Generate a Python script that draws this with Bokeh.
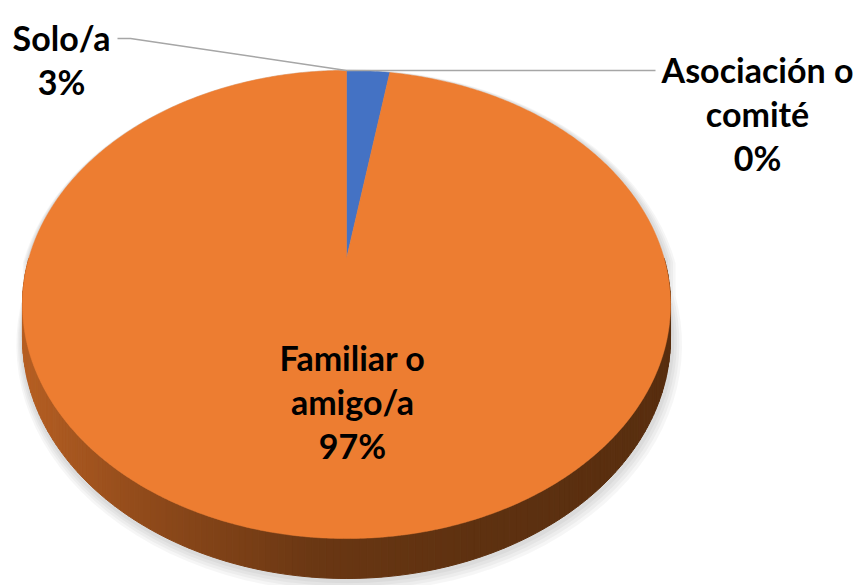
import math
from bokeh.plotting import figure
from bokeh.models import Range1d
from bokeh.core.properties import value
from bokeh.embed import file_html
from bokeh.resources import INLINE

# ---- data ----
categories = ["Solo/a", "Familiar o amigo/a", "Asociación o comité"]
label_lines = [["Solo/a"], ["Familiar o", "amigo/a"], ["Asociación o", "comité"]]
values = [2.6, 97.4, 0.0]
colors = ["#4472C4", "#ED7D31", "#A5A5A5"]

# ---- layout (pixel space of the picture) ----
W, H = 857, 585
CX, Y0 = 346.0, 258.0          # apex of the pie
A, B, K, HS = 317.7, 225.0, 0.1966, 32.1
FONT = "Lato"
FS = "34px"
LINE_GAP = 44
label_pos = [(61, 37), (352, 357), (757, 69)]
leader = {0: [(117, 38), (130, 38)], 2: [(655, 70)]}

p = figure(width=W, height=H, output_backend="svg", toolbar_location=None,
           x_range=Range1d(0, W), y_range=Range1d(H, 0),
           x_axis_location=None, y_axis_location=None, min_border=0)
p.grid.visible = False
p.outline_line_color = None
p.background_fill_color = "white"
p.border_fill_color = "white"


def project(theta, h=0.0):
    X, Z = math.sin(theta), math.cos(theta)
    w = 1 + K * Z
    return CX + A * X / w, Y0 - B * Z / w + HS * h / w


def lerp_col(t):
    stops = [(0.0, (182, 95, 35)), (0.2, (142, 73, 26)), (0.45, (106, 55, 19)),
             (0.7, (94, 49, 16)), (1.0, (88, 46, 15))]
    for (t0, c0), (t1, c1) in zip(stops, stops[1:]):
        if t <= t1:
            f = (t - t0) / (t1 - t0)
            c = [round(a + (b - a) * f) for a, b in zip(c0, c1)]
            return "#%02x%02x%02x" % tuple(c)
    return "#%02x%02x%02x" % stops[-1][1]


total = sum(values)
angles = []
acc = 0.0
for v in values:
    a0 = acc / total * 2 * math.pi
    acc += v
    a1 = acc / total * 2 * math.pi
    angles.append((a0, a1))

# ---- soft shadow ----
sil = [project(math.radians(d), 1.0) for d in range(90, 271, 3)] + \
      [project(math.radians(d)) for d in list(range(270, 361, 3)) + list(range(0, 91, 3))]
for e in [9, 7, 5, 3]:
    xs = [CX + (x - CX) * (1 + e / 330) + e * 0.3 for x, y in sil]
    ys = [Y0 + (y - Y0) * (1 + e / 300) + e * 0.5 for x, y in sil]
    p.patch(xs, ys, fill_color="black", fill_alpha=0.035, line_color=None)

# ---- side (extrusion) of the visible slices ----
side_xs, side_ys, side_cols = [], [], []
for i, (a0, a1) in enumerate(angles):
    lo = max(a0, math.pi / 2)
    hi = min(a1, 3 * math.pi / 2)
    if hi <= lo:
        continue
    n = max(2, int((hi - lo) / math.radians(1.0)))
    for j in range(n):
        t0 = lo + (hi - lo) * j / n
        t1 = lo + (hi - lo) * (j + 1) / n
        p0, p1 = project(t0), project(t1)
        q1, q0 = project(t1, 1.0), project(t0, 1.0)
        side_xs.append([p0[0], p1[0], q1[0], q0[0]])
        side_ys.append([p0[1], p1[1], q1[1], q0[1]])
        xm = (p0[0] + p1[0]) / 2
        side_cols.append(lerp_col((xm - 22) / (670 - 22)))
p.patches(side_xs, side_ys, fill_color=side_cols, line_color=side_cols, line_width=1)

# ---- top face ----
for i, (a0, a1) in enumerate(angles):
    if a1 - a0 <= 0:
        continue
    n = max(2, int((a1 - a0) / math.radians(0.5)))
    pts = [project(a0 + (a1 - a0) * j / n) for j in range(n + 1)]
    xs = [CX] + [q[0] for q in pts]
    ys = [Y0] + [q[1] for q in pts]
    p.patch(xs, ys, fill_color=colors[i], line_color=colors[i], line_width=0.5)

# ---- leader lines ----
for i, pts in leader.items():
    a0, a1 = angles[i]
    end = project(a0)
    xs = [q[0] for q in pts] + [end[0]]
    ys = [q[1] for q in pts] + [end[1]]
    p.line(xs, ys, line_color="#A6A6A6", line_width=1.5)

# ---- labels ----
for i, cat in enumerate(categories):
    pct = f"{round(values[i] / total * 100)}%"
    lines = label_lines[i] + [pct]
    x0, y0 = label_pos[i]
    p.text(x=[x0] * len(lines), y=[y0 + LINE_GAP * j for j in range(len(lines))],
           text=lines, text_align="center", text_baseline="alphabetic",
           text_font=value(FONT), text_font_style="bold", text_font_size=FS,
           text_color="black")

open("out.html", "w").write(file_html(p, INLINE))
